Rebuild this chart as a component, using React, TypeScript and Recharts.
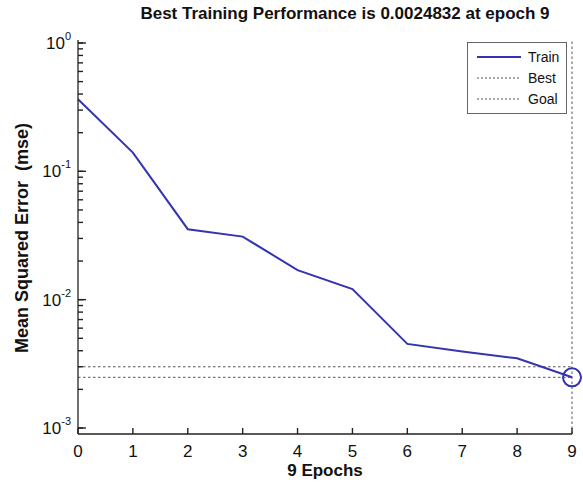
import React from 'react';
import {
  LineChart,
  Line,
  XAxis,
  YAxis,
  ReferenceLine,
  ReferenceDot,
} from 'recharts';

// Training record (mse per epoch)
const EPOCHS = [0, 1, 2, 3, 4, 5, 6, 7, 8, 9];
const TRAIN_MSE = [
  0.365, 0.14, 0.0354, 0.031, 0.017, 0.0121, 0.00452, 0.00394, 0.00349,
  0.0024832,
];
const BEST_PERF = 0.0024832;
const BEST_EPOCH = 9;
const GOAL = 0.003;

const X_TICKS = [0, 1, 2, 3, 4, 5, 6, 7, 8, 9];
const Y_TICKS = [
  0.001, 0.002, 0.003, 0.004, 0.005, 0.006, 0.007, 0.008, 0.009,
  0.01, 0.02, 0.03, 0.04, 0.05, 0.06, 0.07, 0.08, 0.09,
  0.1, 0.2, 0.3, 0.4, 0.5, 0.6, 0.7, 0.8, 0.9,
  1,
];
const Y_MAJOR: { [key: string]: string } = {
  '0.001': '-3',
  '0.01': '-2',
  '0.1': '-1',
  '1': '0',
};

const X_DOMAIN = [0, 9];
const Y_DOMAIN = [0.000898, 1.055];

const WIDTH = 583;
const HEIGHT = 488;
const FONT = '"Liberation Sans", Arial, Helvetica, sans-serif';
const BLUE = '#3434b0';
const AXIS = '#222222';
const DASH = '#555555';

// negative tick sizes make recharts draw the tick marks inside the plot
const X_TICK_LEN = 6;
const Y_TICK_LEN = 5;

const data = EPOCHS.map((epoch, i) => ({ epoch, mse: TRAIN_MSE[i] }));

const XTick = (props: any) => {
  const { x, y, payload } = props;
  return (
    <text
      x={Number(x)}
      y={Number(y) + 23}
      textAnchor="middle"
      fontSize={17}
      fontFamily={FONT}
      fill="#111"
    >
      {payload.value}
    </text>
  );
};

// decade ticks get a longer mark and a 10^n label
const YTick = (props: any) => {
  const { x, y, payload } = props;
  const exp = Y_MAJOR[String(payload.value)];
  if (exp === undefined) return <g />;
  const ax = Number(x);
  const ay = Number(y);
  return (
    <g>
      <path
        d={`M${ax},${ay}H${ax + 8}`}
        stroke={AXIS}
        strokeWidth={1.4}
        fill="none"
      />
      <text
        x={ax - 7}
        y={ay + 6}
        textAnchor="end"
        fontSize={17}
        fontFamily={FONT}
        fill="#111"
      >
        10
        <tspan dy={-9} fontSize={11}>
          {exp}
        </tspan>
      </text>
    </g>
  );
};

const LegendBox = () => {
  const rows = [
    { label: 'Train', dash: undefined, color: BLUE, width: 2 },
    { label: 'Best', dash: '2 2', color: DASH, width: 1 },
    { label: 'Goal', dash: '2 2', color: DASH, width: 1 },
  ];
  return (
    <div
      style={{
        position: 'absolute',
        left: 467,
        top: 42,
        width: 98,
        height: 70,
        border: '1px solid #666',
        background: '#fff',
        fontFamily: FONT,
        fontSize: 14,
        color: '#111',
      }}
    >
      {rows.map((r, i) => (
        <div
          key={r.label}
          style={{
            position: 'absolute',
            left: 8,
            top: 5 + i * 21,
            height: 18,
            display: 'flex',
            alignItems: 'center',
          }}
        >
          <svg width={46} height={18}>
            <line
              x1={1}
              y1={9}
              x2={45}
              y2={9}
              stroke={r.color}
              strokeWidth={r.width}
              strokeDasharray={r.dash}
            />
          </svg>
          <span style={{ marginLeft: 6 }}>{r.label}</span>
        </div>
      ))}
    </div>
  );
};

export default function App() {
  return (
    <div
      style={{
        position: 'absolute',
        left: 0,
        top: 0,
        width: WIDTH,
        height: HEIGHT,
        background: '#fff',
        fontFamily: FONT,
      }}
    >
      <LineChart
        width={WIDTH}
        height={HEIGHT}
        data={data}
        margin={{ top: 40, right: 11, bottom: 24, left: 18 }}
      >
        <XAxis
          dataKey="epoch"
          type="number"
          domain={X_DOMAIN}
          ticks={X_TICKS}
          interval={0}
          tick={<XTick />}
          tickLine={{ stroke: AXIS, strokeWidth: 1.4 }}
          tickSize={-X_TICK_LEN}
          tickMargin={X_TICK_LEN}
          axisLine={{ stroke: AXIS, strokeWidth: 1.3 }}
          height={30}
        />
        <YAxis
          type="number"
          scale="log"
          domain={Y_DOMAIN}
          allowDataOverflow
          ticks={Y_TICKS}
          interval={0}
          tick={<YTick />}
          tickLine={{ stroke: AXIS, strokeWidth: 1.4 }}
          tickSize={-Y_TICK_LEN}
          tickMargin={Y_TICK_LEN}
          axisLine={{ stroke: AXIS, strokeWidth: 1.3 }}
          width={60}
        />
        <ReferenceLine y={GOAL} stroke={DASH} strokeDasharray="2.5 2.5" />
        <ReferenceLine y={BEST_PERF} stroke={DASH} strokeDasharray="2.5 2.5" />
        <ReferenceLine x={BEST_EPOCH} stroke={DASH} strokeDasharray="2.5 2.5" />
        <Line
          type="linear"
          dataKey="mse"
          stroke={BLUE}
          strokeWidth={2}
          dot={false}
          isAnimationActive={false}
        />
        <ReferenceDot
          x={BEST_EPOCH}
          y={BEST_PERF}
          r={9}
          fill="none"
          stroke={BLUE}
          strokeWidth={2}
          ifOverflow="visible"
        />
      </LineChart>

      <div
        style={{
          position: 'absolute',
          left: 0,
          width: WIDTH,
          top: 4,
          paddingLeft: 107,
          textAlign: 'center',
          fontSize: 17,
          fontWeight: 'bold',
          color: '#111',
          boxSizing: 'border-box',
          whiteSpace: 'nowrap',
        }}
      >
        Best Training Performance is 0.0024832 at epoch 9
      </div>
      <div
        style={{
          position: 'absolute',
          left: 78,
          width: 494,
          top: 461,
          textAlign: 'center',
          fontSize: 17,
          fontWeight: 'bold',
          color: '#111',
        }}
      >
        9 Epochs
      </div>
      <div
        style={{
          position: 'absolute',
          left: 22,
          top: 238,
          transform: 'translate(-50%, -50%) rotate(-90deg)',
          whiteSpace: 'pre',
          fontSize: 18,
          fontWeight: 'bold',
          color: '#111',
        }}
      >
        {'Mean Squared Error  (mse)'}
      </div>
      <LegendBox />
    </div>
  );
}
